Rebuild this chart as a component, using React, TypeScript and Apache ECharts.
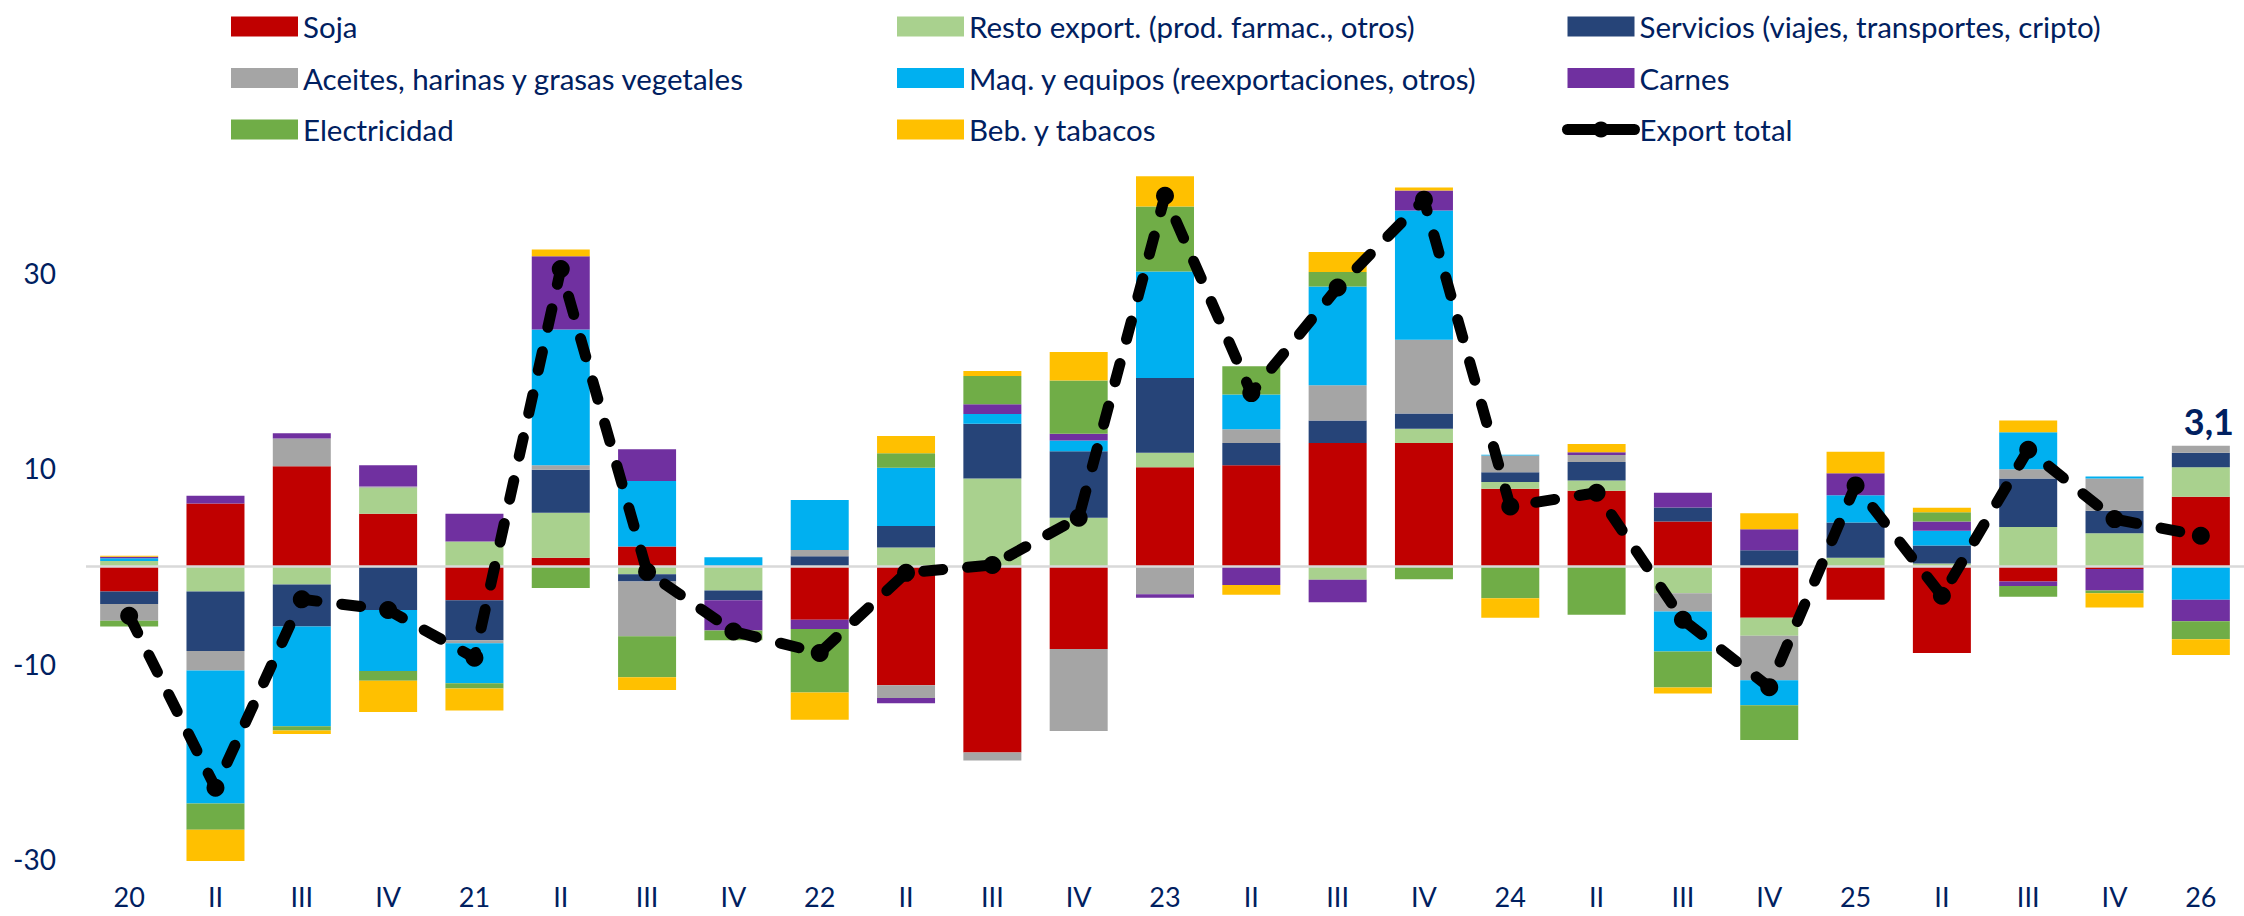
import React, { useEffect, useRef } from "react";
import * as echarts from "echarts";

const categories = ["20","II","III","IV","21","II","III","IV","22","II","III","IV","23","II","III","IV","24","II","III","IV","25","II","III","IV","26"];

const soja = [-2.6, 6.4, 10.2, 5.35, -3.5, 0.85, 2.0, 0, -5.5, -12.2, -19.1, -8.5, 10.1, 10.3, 12.6, 12.6, 7.9, 7.7, 4.55, -5.3, -3.45, -8.9, -1.6, -0.3, 7.1];
const resto = [0.5, -2.6, -1.9, 2.65, 2.5, 4.6, -0.85, -2.5, 0, 1.9, 8.95, 4.95, 1.5, 0, -1.4, 1.45, 0.7, 1.05, -2.8, -1.85, 0.85, 0.25, 4.0, 3.35, 3.0];
const servicios = [-1.3, -6.1, -4.3, -4.5, -4.1, 4.4, -0.75, -1.0, 1.0, 2.2, 5.6, 6.8, 7.65, 2.3, 2.3, 1.55, 1.0, 1.9, 1.45, 1.6, 3.6, 1.85, 4.95, 2.3, 1.5];
const aceites = [-1.7, -2.0, 2.85, 0.15, -0.3, 0.45, -5.6, 0, 0.65, -1.3, -0.8, -8.4, -2.9, 1.4, 3.6, 7.55, 1.7, 0.7, -1.85, -4.55, 0, 0, 0.95, 3.3, 0.7];
const maquinas = [0.3, -13.6, -10.2, -6.25, -4.1, 13.9, 6.7, 0.9, 5.1, 5.95, 1.0, 1.1, 10.9, 3.55, 10.1, 13.25, 0.1, 0, -4.1, -2.55, 2.8, 1.5, 3.8, 0.2, -3.45];
const carnes = [0.15, 0.8, 0.55, 2.15, 2.85, 7.5, 3.25, -3.1, -0.95, -0.55, 1.0, 0.7, -0.35, -1.95, -2.3, 2.05, 0, 0.3, 1.5, 2.15, 2.25, 0.95, -0.45, -2.2, -2.2];
const electricidad = [-0.6, -2.7, -0.45, -1.0, -0.55, -2.25, -4.2, -1.0, -6.5, 1.5, 2.9, 5.45, 6.65, 2.9, 1.5, -1.35, -3.3, -5.0, -3.7, -3.55, 0, 0.95, -1.1, -0.3, -1.85];
const bebidas = [0.1, -3.2, -0.35, -3.2, -2.25, 0.7, -1.3, 0, -2.8, 1.75, 0.5, 2.9, 3.1, -1.0, 2.05, 0.3, -2.0, 0.85, -0.6, 1.65, 2.2, 0.45, 1.2, -1.45, -1.6];
const exportTotal = [-5.1, -22.7, -3.4, -4.5, -9.4, 30.4, -0.6, -6.7, -8.9, -0.7, 0.1, 4.95, 37.9, 17.7, 28.5, 37.5, 6.1, 7.5, -5.5, -12.4, 8.25, -3.05, 11.9, 4.8, 3.1];

const yTickLabels = [30, 10, -10, -30];
const lastLabel = "3,1";

const NAVY = "#002060";
const FONT = "Lato";

const barSeriesDefs = [
  { name: "Soja", data: soja, color: "#C00000" },
  { name: "Resto export. (prod. farmac., otros)", data: resto, color: "#A9D18E" },
  { name: "Servicios (viajes, transportes, cripto)", data: servicios, color: "#264478" },
  { name: "Aceites, harinas y grasas vegetales", data: aceites, color: "#A5A5A5" },
  { name: "Maq. y equipos (reexportaciones, otros)", data: maquinas, color: "#00B0F0" },
  { name: "Carnes", data: carnes, color: "#7030A0" },
  { name: "Electricidad", data: electricidad, color: "#70AD47" },
  { name: "Beb. y tabacos", data: bebidas, color: "#FFC000" },
];

export default function App() {
  const ref = useRef<HTMLDivElement>(null);

  useEffect(() => {
    if (!ref.current) return;
    const chart = echarts.init(ref.current, null, { renderer: "svg" });

    const series: any[] = barSeriesDefs.map((d, i) => ({
      name: d.name,
      type: "bar",
      stack: "total",
      barWidth: 58,
      data: d.data,
      itemStyle: { color: d.color },
      z: 2,
      ...(i === 0
        ? {
            markLine: {
              silent: true,
              symbol: "none",
              label: { show: false },
              lineStyle: { color: "#D9D9D9", width: 2.5, type: "solid" },
              data: [{ yAxis: 0 }],
              z: 3,
            },
          }
        : {}),
    }));

    series.push({
      name: "Export total",
      type: "line",
      z: 5,
      symbol: "circle",
      symbolSize: 18,
      itemStyle: { color: "#000000" },
      lineStyle: { color: "#000000", width: 11, type: [19, 25], cap: "round", join: "round" },
      data: exportTotal.map((v, i) =>
        i === exportTotal.length - 1
          ? {
              value: v,
              label: {
                show: true,
                position: "top",
                offset: [8, -83],
                formatter: lastLabel,
                fontSize: 36,
                fontWeight: "bold",
                color: NAVY,
                fontFamily: FONT,
              },
            }
          : v
      ),
    });

    const legendBase = {
      orient: "vertical",
      top: 6,
      itemWidth: 67,
      itemHeight: 20,
      itemGap: 20.5,
      selectedMode: false,
      textStyle: { color: NAVY, fontSize: 29.5, fontFamily: FONT, lineHeight: 31 },
    };
    const rectItem = (name: string) => ({ name, icon: "rect" });

    chart.setOption({
      animation: false,
      textStyle: { fontFamily: FONT },
      grid: { left: 86, right: -4, top: 155.7, bottom: 37.4, containLabel: false },
      legend: [
        { ...legendBase, left: 226, data: [rectItem(barSeriesDefs[0].name), rectItem(barSeriesDefs[3].name), rectItem(barSeriesDefs[6].name)] },
        { ...legendBase, left: 892, data: [rectItem(barSeriesDefs[1].name), rectItem(barSeriesDefs[4].name), rectItem(barSeriesDefs[7].name)] },
        {
          ...legendBase,
          left: 1557,
          data: [
            rectItem(barSeriesDefs[2].name),
            rectItem(barSeriesDefs[5].name),
            { name: "Export total", lineStyle: { type: "solid", width: 11, cap: "round" } },
          ],
        },
      ],
      xAxis: {
        type: "category",
        data: categories,
        boundaryGap: true,
        axisLine: { show: false, onZero: false },
        axisTick: { show: false },
        splitLine: { show: false },
        axisLabel: { color: NAVY, fontSize: 27, lineHeight: 27, fontFamily: FONT, margin: 4, interval: 0 },
      },
      yAxis: {
        type: "value",
        min: -32,
        max: 42,
        interval: 2,
        splitLine: { show: false },
        axisLine: { show: false },
        axisTick: { show: false },
        axisLabel: {
          color: NAVY,
          fontSize: 28,
          fontFamily: FONT,
          margin: 30,
          formatter: (v: number) => (yTickLabels.includes(v) ? String(v) : ""),
        },
      },
      series,
    });

    return () => chart.dispose();
  }, []);

  return (
    <div
      ref={ref}
      style={{ position: "fixed", left: 0, top: 0, width: 2244, height: 916, background: "#ffffff" }}
    />
  );
}
